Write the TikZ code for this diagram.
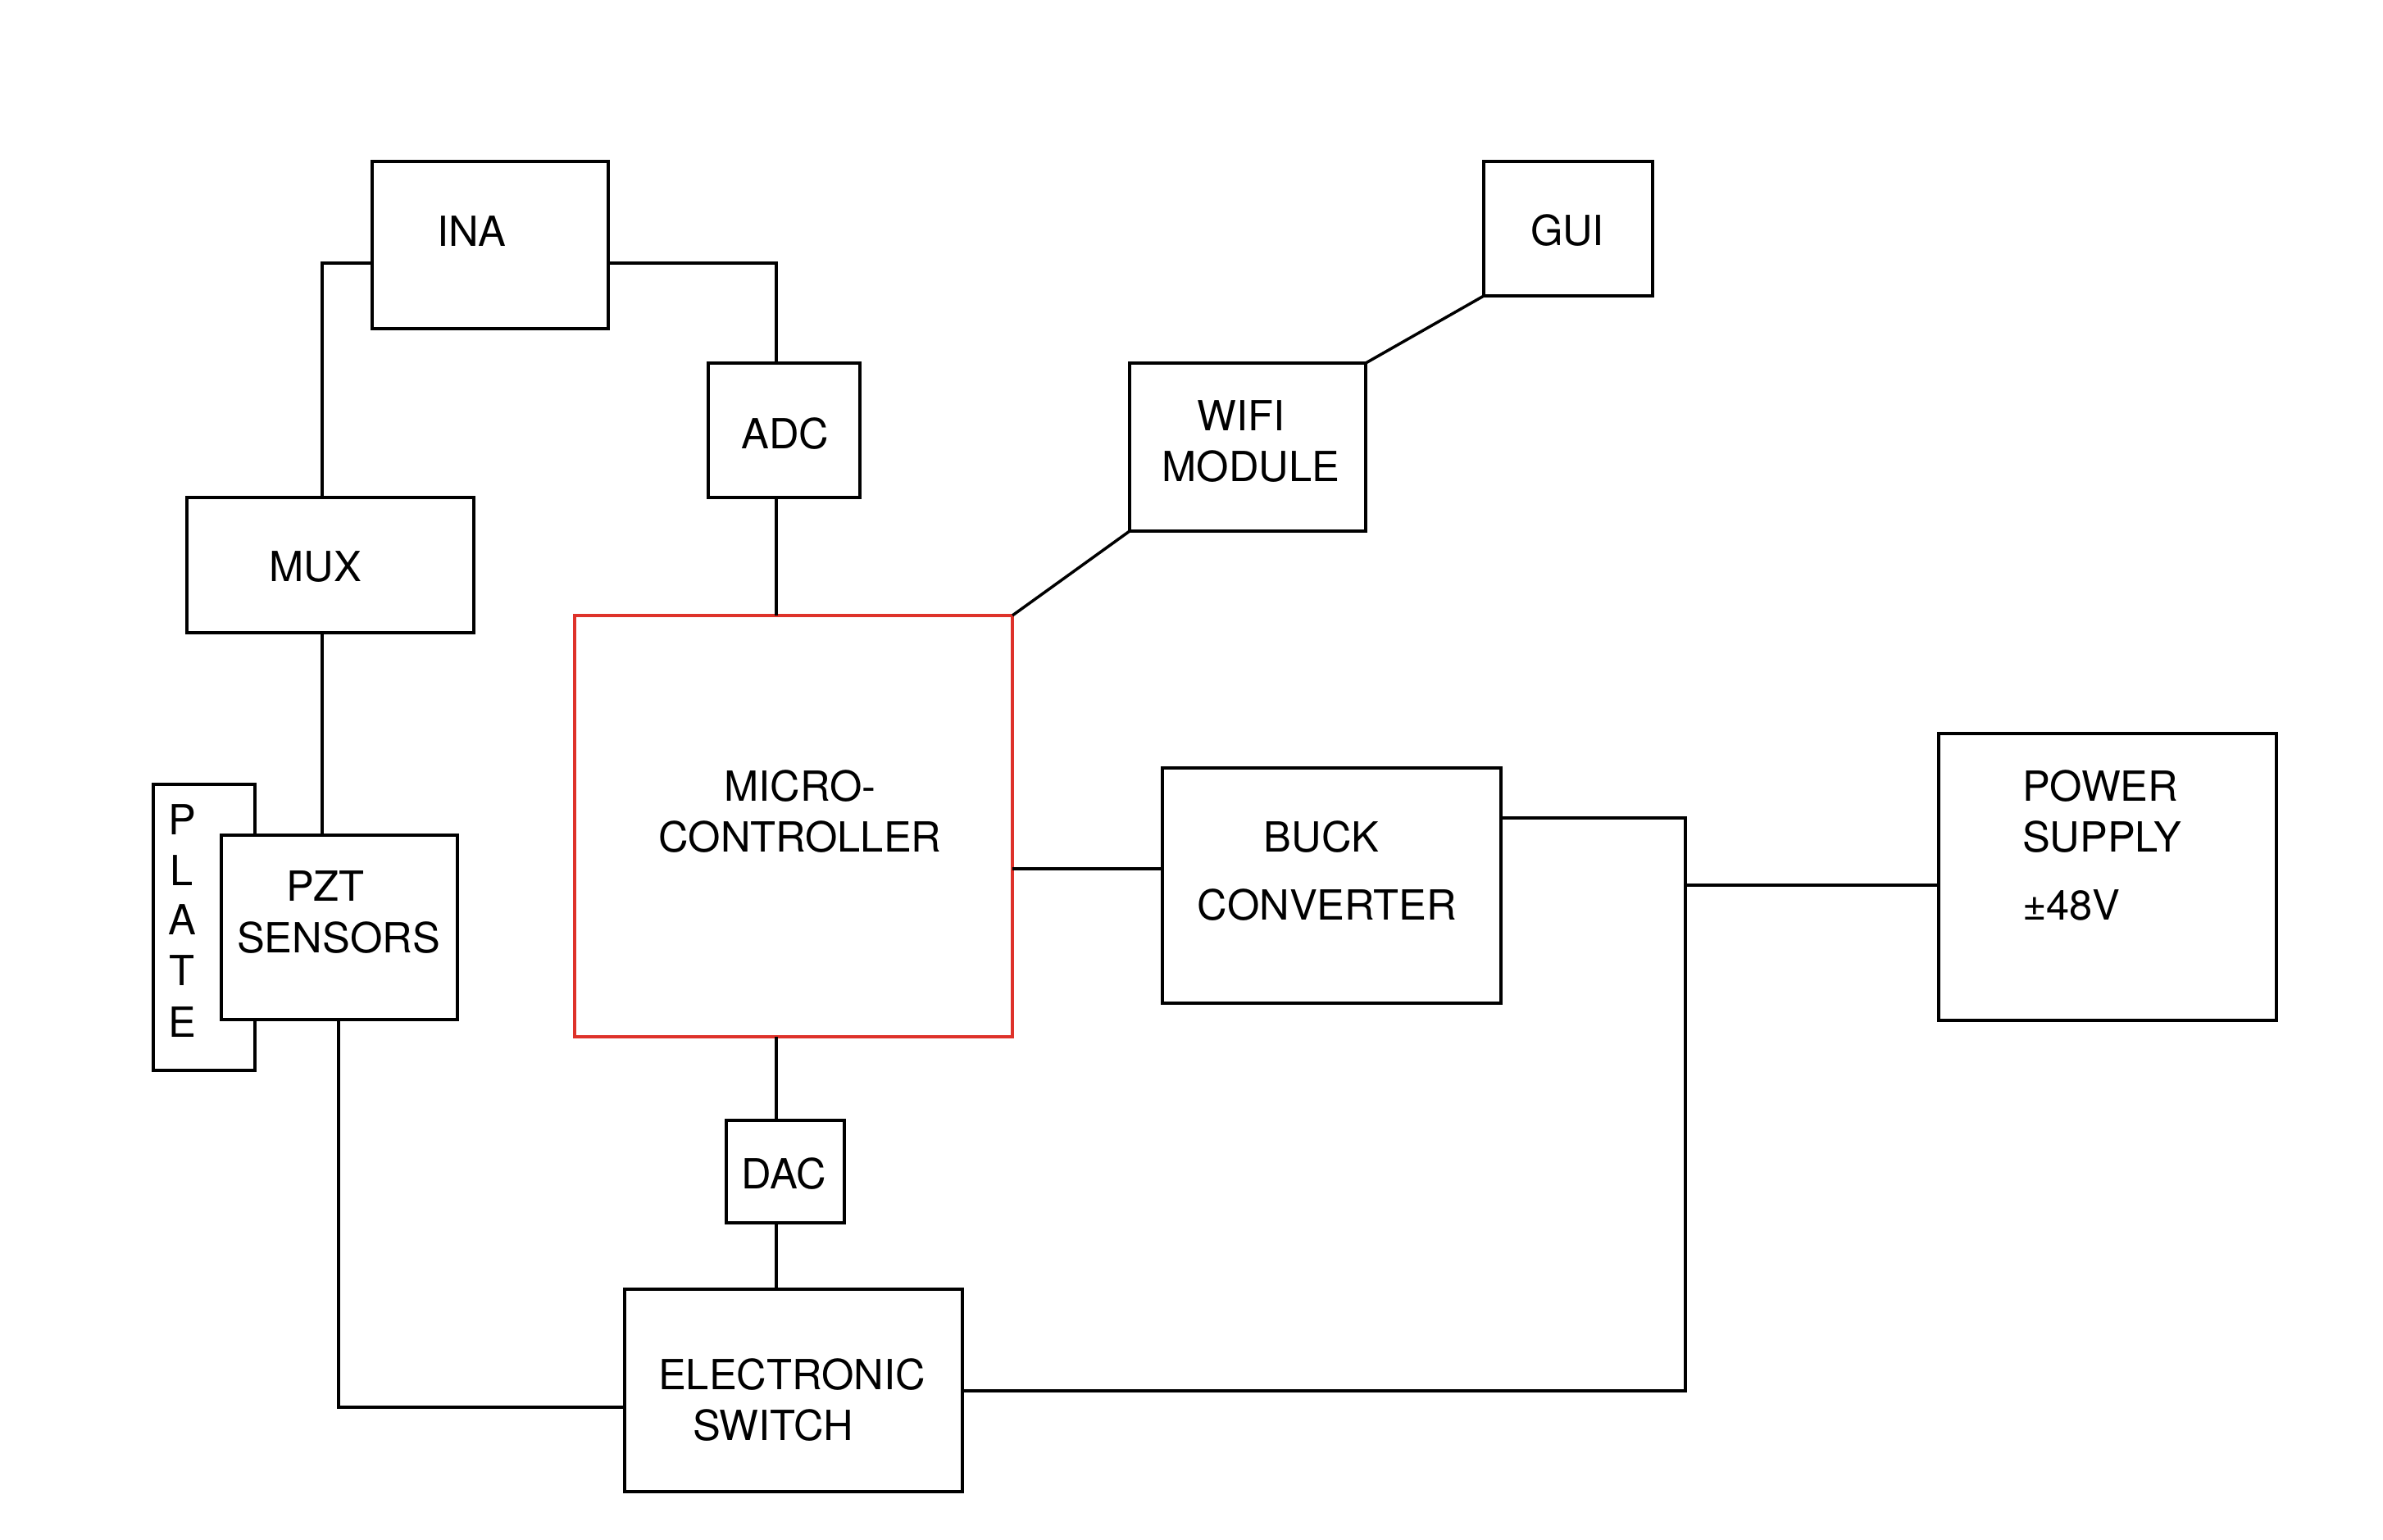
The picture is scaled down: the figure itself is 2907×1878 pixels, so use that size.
\documentclass[tikz,border=0pt]{standalone}
\usepackage{fontspec}
\setmainfont{TeX Gyre Heros}
\definecolor{mcred}{RGB}{222,50,42}
\begin{document}
\begin{tikzpicture}[x=0.01cm,y=-0.01cm,
  blk/.style={draw=black,line width=1pt,fill=white,inner sep=0pt,outer sep=0pt},
  redblk/.style={blk,draw=mcred},
  wire/.style={draw=black,line width=1pt},
  txt/.style={inner sep=0pt,outer sep=0pt,anchor=base,font=\fontsize{14.4}{17.6}\selectfont},
  ltxt/.style={txt,anchor=base west}]
\useasboundingbox (0,0) rectangle (2907,1878);
% junction coordinates
\coordinate (cA) at (393,321);
\coordinate (cB) at (947,321);
\coordinate (cC) at (0,1060);
\coordinate (cD) at (413,1717);
\coordinate (cE) at (2056,998);
\coordinate (cF) at (2056,1697);
\coordinate (cG) at (2056,1080);
% boxes
\node[blk,minimum width=2.88cm,minimum height=2.04cm] (ina) at (598,299) {};
\node[blk,minimum width=2.06cm,minimum height=1.64cm] (gui) at (1913,279) {};
\node[blk,minimum width=1.85cm,minimum height=1.64cm] (adc) at (956.5,525) {};
\node[blk,minimum width=2.88cm,minimum height=2.05cm] (wifi) at (1522,545.5) {};
\node[blk,minimum width=3.50cm,minimum height=1.65cm] (mux) at (403,689.5) {};
\node[redblk,minimum width=5.34cm,minimum height=5.14cm] (mc) at (968,1008) {};
\node[blk,minimum width=1.24cm,minimum height=3.49cm] (plate) at (249,1131.5) {};
\node[blk,minimum width=2.88cm,minimum height=2.25cm] (pzt) at (414,1131.5) {};
\node[blk,minimum width=4.13cm,minimum height=2.87cm] (buck) at (1624.5,1080.5) {};
\node[blk,minimum width=4.12cm,minimum height=3.50cm] (ps) at (2571,1070) {};
\node[blk,minimum width=1.44cm,minimum height=1.25cm] (dac) at (958,1429.5) {};
\node[blk,minimum width=4.12cm,minimum height=2.47cm] (sw) at (968,1696.5) {};
% connectors
\draw[wire] (mux.north -| cA) |- (ina.west |- cA);
\draw[wire] (ina.east |- cB) -| (adc.north -| cB);
\draw[wire] (adc.south -| cB) -- (mc.north -| cB);
\draw[wire] (mc.south -| cB) -- (dac.north -| cB);
\draw[wire] (dac.south -| cB) -- (sw.north -| cB);
\draw[wire] (mc.east |- cC) -- (buck.west |- cC);
\draw[wire] (mc.north east) -- (wifi.south west);
\draw[wire] (wifi.north east) -- (gui.south west);
\draw[wire] (mux.south -| cA) -- (pzt.north -| cA);
\draw[wire] (pzt.south -| cD) |- (sw.west |- cD);
\draw[wire] (buck.east |- cE) -- (cE) -- (cF) -- (sw.east |- cF);
\draw[wire] (ps.west |- cG) -- (cG);
% texts
\node[txt] (tina) at (575,300) {INA};
\node[txt] (tgui) at (1912,299) {GUI};
\node[txt] (tadc) at (958,547) {ADC};
\node[txt] (twifi1) at (1514,525) {WIFI};
\node[txt] (twifi2) at (1526,587) {MODULE};
\node[txt] (tmux) at (385,709) {MUX};
\node[txt] (tmc1) at (976,977) {MICRO-};
\node[txt] (tmc2) at (976,1039) {CONTROLLER};
\node[txt] (tp1) at (222,1018) {P};
\node[txt] (tp2) at (222,1080) {L};
\node[txt] (tp3) at (222,1140) {A};
\node[txt] (tp4) at (222,1202) {T};
\node[txt] (tp5) at (222,1265) {E};
\node[txt] (tpzt1) at (397,1099) {PZT};
\node[txt] (tpzt2) at (413,1162) {SENSORS};
\node[txt] (tbuck1) at (1612,1039) {BUCK};
\node[txt] (tbuck2) at (1619,1122) {CONVERTER};
\node[ltxt] (tps1) at (2467,977) {POWER};
\node[ltxt] (tps2) at (2467,1039) {SUPPLY};
\node[ltxt] (tps3) at (2467,1122) {±48V};
\node[txt] (tdac) at (956,1450) {DAC};
\node[txt] (tsw1) at (966,1695) {ELECTRONIC};
\node[txt] (tsw2) at (943,1757) {SWITCH};
\end{tikzpicture}
\end{document}
